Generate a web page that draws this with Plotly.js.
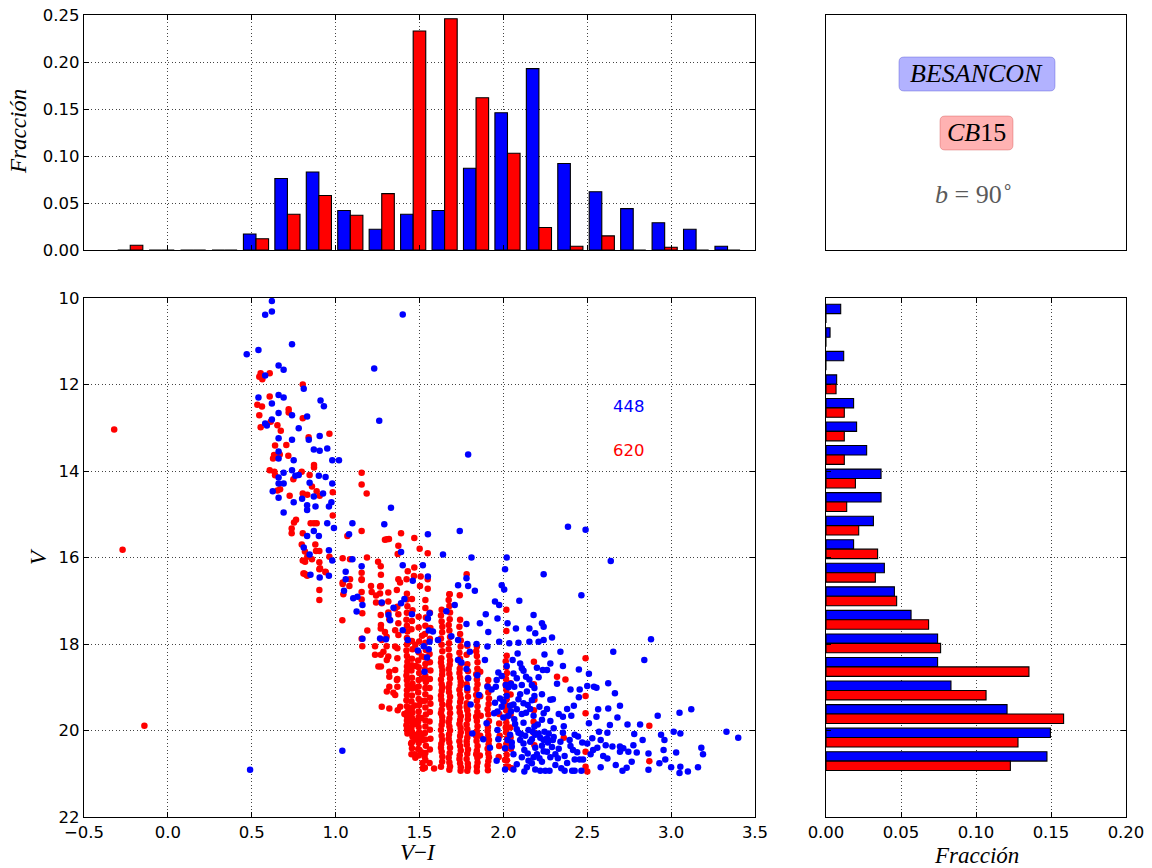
<!DOCTYPE html>
<html>
<head>
<meta charset="utf-8">
<script src="https://cdn.plot.ly/plotly-3.0.1.min.js"></script>
<style>
  html, body { margin: 0; padding: 0; background: #fff; }
  #chart { width: 1152px; height: 868px; }
</style>
</head>
<body>
<div id="chart"></div>
<script>
// ---- Sample sizes quoted on the diagram ----
const nBesancon = 448;
const nCB15 = 620;

// ---- Colour (V-I) histogram: 20 bins between viMin and viMax ----
const viMin = -0.318;
const viMax = 3.43;
const besanconColorFrac = [0, 0, 0, 0, 0.017, 0.076, 0.083, 0.042, 0.022, 0.038,
                           0.042, 0.087, 0.146, 0.193, 0.092, 0.062, 0.044, 0.029, 0.022, 0.004];
const cb15ColorFrac     = [0.005, 0, 0, 0, 0.012, 0.038, 0.058, 0.037, 0.060, 0.233,
                           0.246, 0.162, 0.103, 0.024, 0.004, 0.015, 0, 0.003, 0, 0];

// ---- Magnitude (V) histogram: 20 bins between vMin and vMax ----
const vMin = 10.09;
const vMax = 20.98;
const besanconMagFrac = [0.0098, 0.0027, 0.0118, 0.0071, 0.0184, 0.0204, 0.0271, 0.0367, 0.0367, 0.0316,
                         0.0184, 0.0389, 0.0456, 0.0567, 0.0744, 0.0744, 0.0833, 0.1207, 0.1496, 0.1473];
const cb15MagFrac     = [0, 0, 0, 0.0067, 0.0122, 0.0122, 0.0122, 0.0196, 0.0138, 0.0218,
                         0.0344, 0.0329, 0.0471, 0.0684, 0.0764, 0.1353, 0.1067, 0.1584, 0.1280, 0.1229];

// ---- Colour-magnitude diagram, stars as [V-I, V] ----
const besanconStars = [
  [0.62,10.07],[0.62,10.31],[0.58,10.39],[1.40,10.38],[0.47,11.30],[0.54,11.20],[0.74,11.07],[0.66,11.56],
  [0.69,11.66],[0.58,11.79],[1.23,11.63],[0.81,12.10],[0.54,12.30],[0.62,12.44],[0.66,12.24],[0.69,12.30],
  [0.91,12.37],[0.93,12.50],[0.66,12.66],[0.74,12.71],[0.83,12.74],[0.62,12.81],[0.58,12.90],[0.59,12.95],
  [1.26,12.84],[0.78,13.01],[0.905,13.19],[0.84,13.28],[0.66,13.24],[0.74,13.28],[0.87,13.50],[0.905,13.53],
  [0.95,13.48],[0.66,13.55],[0.66,13.71],[0.75,13.75],[0.98,13.75],[1.02,13.75],[1.79,13.62],[0.74,13.98],
  [0.69,14.04],[0.78,14.09],[0.76,14.11],[0.66,14.15],[0.66,14.29],[0.625,14.47],[0.69,14.29],[0.845,14.27],
  [0.90,14.11],[0.94,14.14],[0.98,14.29],[0.925,14.52],[0.66,14.62],[0.75,14.72],[0.69,14.96],[0.80,14.64],
  [0.83,14.79],[0.83,14.90],[0.88,14.82],[0.96,14.82],[0.975,14.72],[0.87,14.59],[1.33,14.85],[0.95,15.21],
  [0.99,15.32],[1.10,15.21],[1.29,15.23],[0.83,15.50],[0.87,15.39],[0.90,15.50],[1.08,15.46],[1.55,15.46],
  [1.74,15.39],[2.385,15.29],[2.49,15.36],[0.81,15.77],[0.845,15.93],[0.96,15.83],[1.39,15.87],[1.64,15.93],
  [0.98,16.07],[1.10,16.04],[1.81,16.00],[2.02,16.00],[2.64,16.08],[1.40,16.18],[1.52,16.18],[1.155,16.20],
  [2.01,16.27],[1.06,16.33],[2.24,16.39],[0.85,16.40],[0.96,16.42],[0.905,16.46],[1.55,16.44],[1.06,16.50],
  [1.46,16.54],[1.73,16.64],[1.79,16.66],[1.78,16.48],[1.99,16.64],[2.005,16.74],[1.83,16.77],
  [1.05,16.77],[1.105,16.94],[1.13,16.91],[1.16,17.10],[1.125,17.25],[1.275,17.04],[1.345,17.16],[1.325,17.45],
  [1.315,17.33],[1.41,16.96],[1.39,17.06],[1.455,17.31],[1.40,17.68],[1.43,17.91],[1.265,17.87],[1.30,17.89],
  [1.16,17.88],[1.49,18.15],[1.525,18.05],[1.555,18.12],[1.55,17.41],[1.555,17.69],[1.58,17.71],[1.53,18.64],
  [1.545,18.31],[2.465,16.87],[2.095,17.00],[1.95,17.02],[1.975,17.10],[1.71,17.10],[1.66,17.24],[1.56,17.29],
  [1.895,17.31],[1.965,17.41],[1.86,17.52],[1.78,17.54],[2.025,17.52],[2.075,17.64],[2.18,17.33],[2.23,17.52],
  [2.24,17.60],[2.155,17.64],[2.19,17.75],[1.91,17.72],[1.69,17.82],[1.61,17.91],[1.56,17.95],[1.73,17.91],
  [1.785,18.00],[1.84,18.00],[1.975,17.95],[2.035,17.98],[2.09,17.97],[2.155,17.95],[2.21,17.95],[2.24,17.91],
  [2.29,17.85],[2.88,17.89],[1.905,18.06],[1.80,18.18],[2.085,18.22],[2.245,18.24],[2.34,18.18],[2.655,18.18],
  [2.84,18.37],[1.73,18.37],[1.75,18.43],[1.89,18.37],[2.055,18.37],[2.10,18.45],[2.11,18.56],[2.02,18.51],
  [2.355,18.51],[2.45,18.59],[2.235,18.60],[2.26,18.60],[2.51,18.69],[1.78,18.58],[1.845,18.72],[1.97,18.66],
  [1.99,18.74],[2.06,18.68],[2.08,18.79],[2.135,18.76],[2.155,18.82],[2.21,18.77],[1.79,18.79],[1.96,18.83],
  [1.785,19.02],[1.905,18.99],[1.955,18.99],[2.015,18.95],[2.045,18.92],[2.065,18.99],[2.11,18.95],[2.185,19.02],
  [2.455,19.05],[2.50,18.97],[2.54,18.99],[2.555,19.01],[2.625,18.91],[2.665,19.14],[1.855,19.18],[2.185,19.20],
  [2.23,19.16],[2.28,19.29],[2.295,19.28],[2.45,19.23],[1.805,19.40],[1.95,19.36],[2.00,19.33],[2.04,19.43],
  [2.12,19.37],[2.145,19.41],[2.215,19.45],[2.42,19.43],[2.625,19.49],[2.695,19.43],[2.565,19.51],[3.12,19.51],
  [1.945,19.60],[1.965,19.56],[2.045,19.56],[2.11,19.62],[2.135,19.59],[2.18,19.66],[2.24,19.60],[2.355,19.68],
  [2.405,19.66],[2.555,19.68],[2.92,19.66],[3.05,19.59],[2.065,19.74],[2.12,19.82],[2.205,19.86],[2.185,19.91],
  [2.51,19.83],[2.635,19.87],[2.74,19.86],[2.815,19.86],[3.015,20.03],[3.055,20.07],[3.33,20.03],[3.40,20.17],
  [1.90,19.83],[1.815,20.07],[1.965,19.99],[2.08,19.97],[2.15,19.99],[2.175,20.03],[2.21,20.07],[2.245,20.03],
  [2.27,20.07],[2.355,20.05],[2.425,20.10],[2.445,20.14],[2.57,20.03],[2.94,20.10],[2.83,20.22],[2.96,20.22],
  [2.025,20.22],[2.05,20.28],[2.10,20.22],[2.17,20.20],[2.22,20.17],[2.24,20.22],[2.265,20.28],[2.295,20.22],
  [2.34,20.26],[2.395,20.22],[2.58,20.22],[2.61,20.34],[2.65,20.37],[2.695,20.37],[2.715,20.41],[2.775,20.34],
  [2.695,20.49],[2.745,20.49],[2.795,20.51],[2.955,20.45],[3.03,20.51],[3.18,20.40],[3.19,20.55],[2.01,20.41],
  [2.125,20.45],[2.145,20.53],[2.20,20.55],[2.26,20.49],[2.415,20.45],[2.425,20.67],[2.455,20.67],[2.475,20.67],
  [2.365,20.59],[2.325,20.64],[2.535,20.45],[2.595,20.59],[2.765,20.72],[2.865,20.53],[2.93,20.76],[2.965,20.67],
  [2.67,20.80],[2.735,20.86],[2.71,20.93],[2.865,20.91],[3.00,20.85],[3.055,20.84],[3.05,20.98],[3.10,20.95],
  [3.16,20.85],[2.215,20.64],[2.23,20.72],[2.17,20.76],[2.22,20.93],[2.25,20.93],[2.275,20.93],[2.125,20.95],
  [2.345,20.87],[2.365,20.93],[2.41,20.93],[2.425,20.93],[2.465,20.93],[2.06,20.90],[2.01,20.90],[2.05,20.37],
  [2.105,20.08],[2.08,19.51],[1.98,19.26],[0.49,20.91],[1.04,20.47],
  [2.14,19.10],[2.02,19.20],[2.09,19.28],[2.16,19.50],[2.23,19.75],[2.30,19.95],[2.12,20.30],[2.19,20.40],
  [2.28,20.62],[2.33,20.42],[2.06,20.55],[2.15,20.70],[2.04,20.10],[2.36,19.90],[2.30,20.15],[2.50,20.30],
  [2.52,20.55],[2.62,20.05],[2.68,19.70],[2.78,20.08],[1.92,20.40],[1.88,20.20],[1.96,20.70],[2.40,19.05],
  [2.32,18.92],[2.28,18.45],
  [1.99,19.45],[2.03,19.66],[2.07,19.85],[2.09,20.05],[2.13,20.12],[2.16,20.26],[2.19,20.10],[2.23,20.35],
  [2.26,20.18],[2.29,20.38],[2.31,20.55],[2.24,20.48],[2.18,20.62],[2.11,20.62],[2.08,20.78],[2.14,20.85],
  [2.19,20.90],[2.31,20.80],[2.38,20.75],[2.40,20.36],[2.44,20.50],[2.47,20.28],[2.53,20.18],[2.56,20.40],
  [2.62,20.65],[2.58,20.85],[2.00,19.70],[2.06,19.40],[2.10,19.16],[2.17,19.30],[2.26,19.50],[2.33,19.62],
  [2.28,19.78],[2.38,19.50],[2.03,19.00],[2.12,18.62],[2.20,18.55],[2.17,18.95],[1.93,19.05],[1.97,20.20]
];

const cb15Stars = [
  [-0.32,13.04],[-0.27,15.82],[-0.14,19.89],
  [0.553,11.74],[0.563,11.88],[0.607,11.74],[0.545,11.82],[0.804,12.00],[0.607,12.28],[0.533,12.47],[0.561,12.51],
  [0.545,12.71],[0.613,12.86],[0.553,12.99],[0.720,12.57],[0.720,12.65],[0.804,12.78],[0.653,12.94],[0.673,13.07],
  [0.839,13.22],[0.963,13.14],[0.706,13.40],[0.639,13.41],[0.633,13.63],[0.667,13.62],[0.718,13.65],[0.627,13.71],
  [0.871,13.86],[0.871,13.92],[0.798,14.02],[0.845,14.09],[0.607,13.98],[0.635,14.02],[0.639,14.10],[0.748,14.19],
  [0.859,14.36],[0.887,14.47],[0.905,14.57],[0.983,14.49],[0.653,14.45],[0.669,14.42],[0.726,14.57],[0.804,14.52],
  [0.831,14.55],[0.983,15.03],[0.764,15.13],[0.752,15.19],[0.738,15.33],[0.738,15.44],[0.851,15.21],[0.871,15.21],
  [0.887,15.21],[0.804,15.44],[0.798,15.70],[0.879,15.70],[0.817,15.86],[0.831,15.98],[0.883,15.85],[0.903,15.85],
  [0.804,16.07],[0.859,16.04],[0.903,16.11],[0.963,15.98],[0.813,16.37],[0.831,16.42],[0.903,16.27],[0.939,16.33],
  [1.042,16.02],[1.086,16.04],[1.070,15.50],[1.042,16.58],[1.086,16.50],[1.155,16.35],[1.155,16.50],[1.155,14.04],
  [1.155,14.31],[1.185,14.52],[1.155,15.39],[1.187,16.00],[1.253,16.10],[1.269,16.20],[1.294,15.59],[1.306,15.58],
  [1.318,15.57],[1.374,15.73],[1.390,15.44],[1.370,15.92],[1.430,16.32],[1.469,16.23],[1.469,15.55],[1.501,15.80],
  [1.549,15.90],[1.549,16.50],[1.507,16.44],[1.467,16.43],[1.374,16.50],[1.384,16.58],[1.269,16.66],[1.211,16.66],
  [1.423,16.50],[1.503,16.66],[1.549,16.72],[1.781,16.39],
  [0.818,16.10],[0.808,16.37],[0.824,16.40],[0.907,16.25],[0.903,16.75],[0.903,16.98],[0.941,16.34],[1.042,16.61],
  [1.046,16.85],[1.082,16.66],[1.040,17.45],[1.155,16.52],[1.155,16.80],[1.159,17.29],[1.155,16.97],[1.155,17.88],
  [1.159,18.05],[1.189,17.69],[1.215,16.80],[1.241,16.88],[1.241,17.04],[1.265,16.67],[1.265,16.83],[1.269,17.33],
  [1.269,17.64],[1.235,18.05],[1.235,18.25],[1.255,18.52],[1.269,18.25],[1.294,17.72],[1.304,17.83],[1.304,18.05],
  [1.314,18.29],[1.314,16.81],[1.314,17.02],[1.314,17.27],[1.320,17.43],[1.320,18.64],[1.320,18.76],[1.320,18.99],
  [1.320,19.49],[1.344,19.13],[1.368,18.81],[1.368,18.99],[1.370,19.53],[1.368,18.10],[1.368,18.33],[1.374,17.31],
  [1.374,17.52],[1.374,17.79],[1.368,17.14],[1.365,16.75],[1.355,17.18],[1.355,17.68],[1.355,18.06],[1.355,18.60],
  [1.365,18.83],[1.355,19.18],[1.385,19.45],[1.27,16.40],[1.275,17.06],[1.27,17.56],[1.275,17.91],[1.285,18.18],
  [1.305,18.37],[1.27,18.52],[1.305,19.10],[1.275,19.45],
  // main-sequence strip, 1.42 < V-I < 1.60
  [1.425,16.84],[1.425,16.97],[1.428,17.13],[1.425,17.28],[1.422,17.44],[1.425,17.58],[1.428,17.71],[1.425,17.86],
  [1.425,18.01],[1.422,18.15],[1.425,18.28],[1.428,18.41],[1.425,18.52],[1.425,18.63],[1.422,18.73],[1.425,18.84],
  [1.428,18.95],[1.425,19.07],[1.425,19.18],[1.422,19.30],[1.425,19.44],[1.428,19.57],[1.425,19.67],[1.425,19.77],
  [1.422,19.88],[1.425,19.98],[1.428,20.07],
  [1.455,16.96],[1.458,17.22],[1.455,17.47],[1.452,17.66],[1.455,17.93],[1.458,18.12],[1.455,18.34],[1.455,18.49],
  [1.452,18.61],[1.455,18.78],[1.458,18.92],[1.455,19.03],[1.455,19.19],[1.452,19.33],[1.455,19.48],[1.458,19.59],
  [1.455,19.71],[1.455,19.82],[1.452,19.93],[1.455,20.03],[1.458,20.14],[1.455,20.27],[1.455,20.41],[1.452,20.55],
  [1.495,17.37],[1.495,17.62],[1.498,17.94],[1.495,18.19],[1.492,18.38],[1.495,18.54],[1.498,18.67],[1.495,18.83],
  [1.495,18.98],[1.492,19.12],[1.495,19.27],[1.498,19.41],[1.495,19.56],[1.495,19.69],[1.492,19.80],[1.495,19.92],
  [1.498,20.04],[1.495,20.16],[1.495,20.29],[1.492,20.43],[1.495,20.58],[1.523,20.88],
  [1.535,16.98],[1.535,17.17],[1.538,17.39],[1.535,17.58],[1.532,17.77],[1.535,17.97],[1.538,18.14],[1.535,18.31],
  [1.535,18.46],[1.532,18.59],[1.535,18.74],[1.538,18.88],[1.535,19.02],[1.535,19.16],[1.532,19.31],[1.535,19.47],
  [1.538,19.63],[1.535,19.77],[1.535,19.91],[1.532,20.06],[1.535,20.21],[1.538,20.35],[1.535,20.52],[1.535,20.68],
  [1.532,20.86],
  [1.562,17.28],[1.565,17.63],[1.562,17.88],[1.560,18.23],[1.562,18.42],[1.565,18.61],[1.562,18.81],[1.560,19.02],
  [1.562,19.24],[1.565,19.38],[1.562,19.57],[1.560,19.79],[1.562,19.98],[1.565,20.19],[1.562,20.44],[1.587,20.88],
  [1.41,19.62],[1.44,19.70],[1.47,19.85],[1.43,20.00],[1.48,20.10],[1.52,20.22],[1.45,20.30],[1.50,20.45],
  [1.53,20.60],[1.56,20.75],[1.52,20.88],[1.47,20.55],
  [1.475,18.02],[1.478,18.51],[1.475,19.01],[1.472,19.42],[1.475,19.78],[1.478,20.21],[1.475,20.63],
  [1.515,17.81],[1.515,18.29],[1.518,18.80],[1.515,19.32],[1.512,19.71],[1.515,20.09],[1.515,20.51],[1.518,20.75],
  // redder columns
  [1.632,17.21],[1.632,17.48],[1.635,17.73],[1.632,18.02],[1.630,18.33],[1.632,18.52],[1.635,18.71],[1.632,18.93],
  [1.632,19.08],[1.630,19.29],[1.632,19.52],[1.635,19.68],[1.632,19.87],[1.632,20.12],[1.630,20.31],[1.632,20.49],
  [1.635,20.72],
  [1.628,17.34],[1.636,17.60],[1.628,17.87],[1.636,18.17],[1.628,18.43],[1.636,18.62],[1.628,18.82],[1.636,19.00],
  [1.628,19.19],[1.636,19.40],[1.628,19.60],[1.636,19.78],[1.628,19.99],[1.636,20.22],[1.628,20.40],[1.636,20.60],
  [1.628,20.84],
  [1.678,16.85],[1.678,17.12],[1.680,17.43],[1.678,17.69],[1.676,17.98],[1.678,18.27],[1.680,18.48],[1.678,18.69],
  [1.678,18.92],[1.676,19.11],[1.678,19.33],[1.680,19.48],[1.678,19.72],[1.678,19.91],[1.676,20.09],[1.678,20.28],
  [1.680,20.52],[1.678,20.74],[1.678,20.91],
  [1.674,16.98],[1.682,17.27],[1.674,17.56],[1.682,17.84],[1.674,18.12],[1.682,18.38],[1.674,18.58],[1.682,18.80],
  [1.674,19.01],[1.682,19.22],[1.674,19.41],[1.682,19.60],[1.674,19.81],[1.682,20.00],[1.674,20.19],[1.682,20.40],
  [1.674,20.63],[1.682,20.83],
  [1.742,17.44],[1.742,17.77],[1.745,18.06],[1.742,18.34],[1.740,18.57],[1.742,18.78],[1.745,18.96],[1.742,19.17],
  [1.742,19.34],[1.740,19.58],[1.742,19.76],[1.745,19.94],[1.742,20.13],[1.742,20.36],[1.740,20.57],[1.742,20.76],
  [1.745,20.93],
  [1.738,17.60],[1.746,17.92],[1.738,18.20],[1.746,18.46],[1.738,18.67],[1.746,18.87],[1.738,19.06],[1.746,19.26],
  [1.738,19.46],[1.746,19.67],[1.738,19.85],[1.746,20.04],[1.738,20.25],[1.746,20.46],[1.738,20.66],[1.746,20.85],
  [1.785,18.04],[1.785,18.47],[1.788,18.79],[1.785,19.08],[1.782,19.37],[1.785,19.53],[1.788,19.74],[1.785,19.97],
  [1.785,20.16],[1.782,20.33],[1.785,20.54],[1.788,20.77],[1.785,20.93],
  [1.781,18.25],[1.789,18.63],[1.781,18.93],[1.789,19.22],[1.781,19.45],[1.789,19.64],[1.781,19.86],[1.789,20.06],
  [1.781,20.25],[1.789,20.44],[1.781,20.66],[1.789,20.85],
  [1.842,18.06],[1.842,18.28],[1.845,18.57],[1.842,18.82],[1.840,19.04],[1.842,19.31],[1.845,19.57],[1.842,19.78],
  [1.842,20.02],[1.840,20.24],[1.842,20.47],[1.845,20.63],[1.842,20.84],[1.842,20.94],
  [1.838,18.17],[1.846,18.42],[1.838,18.70],[1.846,18.93],[1.838,19.18],[1.846,19.44],[1.838,19.68],[1.846,19.90],
  [1.838,20.13],[1.846,20.36],[1.838,20.55],[1.846,20.74],
  [1.862,18.64],[1.862,19.21],[1.865,19.66],[1.862,20.12],[1.860,20.58],
  [1.910,18.83],[1.910,19.12],[1.912,19.39],[1.910,19.63],[1.908,19.92],[1.910,20.11],[1.912,20.32],[1.910,20.53],
  [1.910,20.71],[1.908,20.92],
  [1.906,18.97],[1.914,19.26],[1.906,19.51],[1.914,19.78],[1.906,20.01],[1.914,20.22],[1.906,20.42],[1.914,20.62],
  [1.906,20.81],
  [1.975,19.62],[1.975,19.84],[1.978,20.12],[1.975,20.36],[1.972,20.61],
  [2.018,17.21],[2.018,17.70],[2.020,18.27],[2.018,18.53],[2.016,18.81],[2.018,19.06],[2.020,19.28],[2.018,19.54],
  [2.018,19.82],[2.016,20.04],[2.018,20.31],[2.020,20.56],[2.018,20.83],
  [2.014,18.40],[2.022,18.67],[2.014,18.94],[2.022,19.17],[2.014,19.41],[2.022,19.68],[2.014,19.93],[2.022,20.18],
  [2.014,20.43],[2.022,20.69],
  [2.043,18.91],[2.043,19.17],[2.045,19.42],[2.043,19.64],[2.041,19.93],[2.043,20.16],[2.045,20.42],
  [2.182,18.41],[2.182,18.93],[2.185,19.29],[2.182,19.53],[2.180,19.80],[2.182,20.06],[2.185,20.34],
  // scattered red stars
  [2.49,18.33],[2.32,18.76],[2.37,18.82],[2.49,19.20],[2.49,19.60],[2.87,19.89],[2.87,20.71],[2.36,20.17],
  [2.49,20.49],[2.49,20.84],[2.50,20.95],[2.03,20.84],[2.05,20.87],[2.01,20.68],[1.74,16.87],[1.68,16.85]
];

// ---- Derived bin centres ----
const viStep = (viMax - viMin) / besanconColorFrac.length;
const viCenters = besanconColorFrac.map((_, i) => viMin + (i + 0.5) * viStep);
const vStep = (vMax - vMin) / besanconMagFrac.length;
const vCenters = besanconMagFrac.map((_, i) => vMin + (i + 0.5) * vStep);

const BLUE = '#0000ff';
const RED = '#ff0000';
const barEdge = { color: '#000', width: 1.1 };

const traces = [
  // colour-magnitude diagram
  { type: 'scatter', mode: 'markers', xaxis: 'x', yaxis: 'y',
    x: cb15Stars.map(p => p[0]), y: cb15Stars.map(p => p[1]),
    marker: { color: RED, size: 6.5, line: { width: 0 } }, hoverinfo: 'skip' },
  { type: 'scatter', mode: 'markers', xaxis: 'x', yaxis: 'y',
    x: besanconStars.map(p => p[0]), y: besanconStars.map(p => p[1]),
    marker: { color: BLUE, size: 6.5, line: { width: 0 } }, hoverinfo: 'skip' },
  // colour histogram
  { type: 'bar', xaxis: 'x2', yaxis: 'y2', x: viCenters, y: besanconColorFrac,
    marker: { color: BLUE, line: barEdge }, hoverinfo: 'skip' },
  { type: 'bar', xaxis: 'x2', yaxis: 'y2', x: viCenters, y: cb15ColorFrac,
    marker: { color: RED, line: barEdge }, hoverinfo: 'skip' },
  // magnitude histogram
  { type: 'bar', orientation: 'h', xaxis: 'x4', yaxis: 'y4', y: vCenters, x: besanconMagFrac,
    marker: { color: BLUE, line: barEdge }, hoverinfo: 'skip' },
  { type: 'bar', orientation: 'h', xaxis: 'x4', yaxis: 'y4', y: vCenters, x: cb15MagFrac,
    marker: { color: RED, line: barEdge }, hoverinfo: 'skip' }
];

const W = 1152, H = 868;
const px = v => v / W;            // horizontal pixel -> paper
const py = v => (H - v) / H;      // vertical pixel -> paper

const domMainX = [px(84), px(755)];
const domSideX = [px(826), px(1126)];
const domLowY = [py(817), py(298)];
const domTopY = [py(250), py(15)];

const tickFont = { family: 'DejaVu Sans, sans-serif', size: 16.5, color: '#000' };
const frame = {
  showline: true, linecolor: '#000', linewidth: 1.2, mirror: 'allticks',
  ticks: 'inside', ticklen: 5, tickwidth: 1, tickcolor: '#000',
  showgrid: true, gridcolor: '#444', gridwidth: 1, griddash: '1px,2.5px',
  zeroline: false, tickfont: tickFont, automargin: false, fixedrange: true
};

function roundedBox(x0, x1, y0, y1, rx, ry) {
  return `M ${x0 + rx},${y0} L ${x1 - rx},${y0} Q ${x1},${y0} ${x1},${y0 + ry} ` +
         `L ${x1},${y1 - ry} Q ${x1},${y1} ${x1 - rx},${y1} L ${x0 + rx},${y1} ` +
         `Q ${x0},${y1} ${x0},${y1 - ry} L ${x0},${y0 + ry} Q ${x0},${y0} ${x0 + rx},${y0} Z`;
}

const serif = 'Liberation Serif, Times New Roman, serif';

// every text is centred on its anchor point
const note = o => Object.assign({ showarrow: false, xanchor: 'center', yanchor: 'middle' }, o);

const layout = {
  width: W, height: H,
  margin: { l: 0, r: 0, t: 0, b: 0 },
  paper_bgcolor: '#fff', plot_bgcolor: '#fff',
  showlegend: false,
  barmode: 'group', bargap: 0.2, bargroupgap: 0,
  xaxis: Object.assign({}, frame, { domain: domMainX, anchor: 'y', range: [-0.5, 3.5],
    tickmode: 'linear', tick0: -0.5, dtick: 0.5, tickformat: '.1f' }),
  yaxis: Object.assign({}, frame, { domain: domLowY, anchor: 'x', range: [22, 10],
    tickmode: 'linear', tick0: 10, dtick: 2 }),
  xaxis2: Object.assign({}, frame, { domain: domMainX, anchor: 'y2', range: [-0.5, 3.5],
    tickmode: 'linear', tick0: -0.5, dtick: 0.5, showticklabels: false }),
  yaxis2: Object.assign({}, frame, { domain: domTopY, anchor: 'x2', range: [0, 0.25],
    tickmode: 'linear', tick0: 0, dtick: 0.05, tickformat: '.2f' }),
  xaxis3: { domain: domSideX, anchor: 'y3', range: [0, 1], showline: true, linecolor: '#000',
    linewidth: 1.2, mirror: true, ticks: '', showticklabels: false, showgrid: false,
    zeroline: false, fixedrange: true },
  yaxis3: { domain: domTopY, anchor: 'x3', range: [0, 1], showline: true, linecolor: '#000',
    linewidth: 1.2, mirror: true, ticks: '', showticklabels: false, showgrid: false,
    zeroline: false, fixedrange: true },
  xaxis4: Object.assign({}, frame, { domain: domSideX, anchor: 'y4', range: [0, 0.2],
    tickmode: 'linear', tick0: 0, dtick: 0.05, tickformat: '.2f' }),
  yaxis4: Object.assign({}, frame, { domain: domLowY, anchor: 'x4', range: [22, 10],
    tickmode: 'linear', tick0: 10, dtick: 2, showticklabels: false }),
  shapes: [
    { type: 'path', xref: 'x3', yref: 'y3', layer: 'below',
      path: roundedBox(0.2433, 0.7633, 0.6766, 0.8213, 0.017, 0.021),
      fillcolor: 'rgba(0,0,255,0.3)', line: { color: 'rgba(60,60,200,0.35)', width: 1 } },
    { type: 'path', xref: 'x3', yref: 'y3', layer: 'below',
      path: roundedBox(0.38, 0.6233, 0.4255, 0.5702, 0.017, 0.021),
      fillcolor: 'rgba(255,0,0,0.3)', line: { color: 'rgba(200,60,60,0.35)', width: 1 } }
  ],
  annotations: [
    note({ xref: 'x3', yref: 'y3', x: 0.503, y: 0.749, text: '<i>BESANCON</i>',
      font: { family: serif, size: 26, color: '#000' } }),
    note({ xref: 'x3', yref: 'y3', x: 0.502, y: 0.498, text: '<i>CB</i>15',
      font: { family: serif, size: 26, color: '#000' } }),
    note({ xref: 'x3', yref: 'y3', x: 0.493, y: 0.243, text: '<i>b</i> = 90<sup>∘</sup>',
      font: { family: serif, size: 26, color: '#5a5a5a' } }),
    note({ xref: 'x', yref: 'y', x: 2.75, y: 12.52, text: String(nBesancon),
      font: { family: 'DejaVu Sans, sans-serif', size: 16.5, color: BLUE } }),
    note({ xref: 'x', yref: 'y', x: 2.75, y: 13.53, text: String(nCB15),
      font: { family: 'DejaVu Sans, sans-serif', size: 16.5, color: RED } }),
    // axis titles
    note({ xref: 'paper', yref: 'paper', x: px(418), y: py(852),
      text: '<i>V</i>−<i>I</i>', font: { family: serif, size: 23, color: '#000' } }),
    note({ xref: 'paper', yref: 'paper', x: px(38), y: py(557), textangle: -90,
      text: '<i>V</i>', font: { family: serif, size: 23, color: '#000' } }),
    note({ xref: 'paper', yref: 'paper', x: px(18), y: py(132), textangle: -90,
      text: '<i>Fracción</i>', font: { family: serif, size: 23, color: '#000' } }),
    note({ xref: 'paper', yref: 'paper', x: px(976), y: py(855),
      text: '<i>Fracción</i>', font: { family: serif, size: 23, color: '#000' } })
  ]
};

Plotly.newPlot('chart', traces, layout, { staticPlot: true, displayModeBar: false });
</script>
</body>
</html>
